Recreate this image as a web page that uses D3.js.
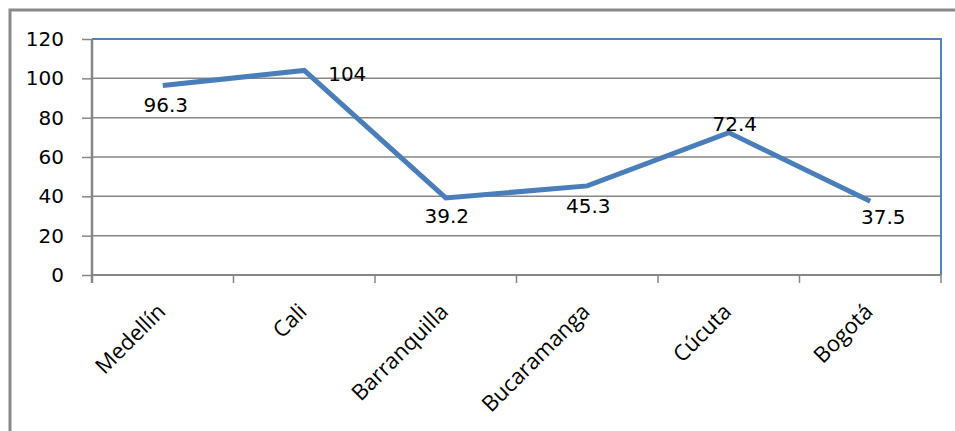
<!DOCTYPE html>
<html><head><meta charset="utf-8">
<script src="https://cdn.jsdelivr.net/npm/d3@7"></script>
<style>body{margin:0;background:#fff}svg{display:block}</style>
</head><body>
<script>
const categories = ["Medellín","Cali","Barranquilla","Bucaramanga","Cúcuta","Bogotá"];
const values = [96.3,104,39.2,45.3,72.4,37.5];
const labelText = ["96.3","104","39.2","45.3","72.4","37.5"];
const yTicks = [0,20,40,60,80,100,120];
// label placement relative to the point: dx, dy (center of text)
const labelPos = [[3,19],[43,3],[1,18],[1,20],[6,-9],[13,16]];

const W=955,H=431;
const svg=d3.select("body").append("svg").attr("width",W).attr("height",H);
svg.append("rect").attr("width",W).attr("height",H).attr("fill","#fff");
// outer chart border
svg.append("path").attr("d",`M10,${H} V10 H${W}`).attr("fill","none").attr("stroke","#8a8a8a").attr("stroke-width",3);

const L=92,R=941,T=39,B=275;
const x=d3.scaleBand().domain(categories).range([L,R]);
const y=d3.scaleLinear().domain([0,120]).range([B,T]);

// gridlines
svg.append("g").selectAll("line").data(yTicks.filter(d=>d>0 && d<120)).join("line")
 .attr("x1",L).attr("x2",R).attr("y1",d=>y(d)).attr("y2",d=>y(d))
 .attr("stroke","#868686").attr("stroke-width",1.5);
// plot area top & right border (blue)
svg.append("path").attr("d",`M${L},${y(120)} H${R} V${B}`).attr("fill","none").attr("stroke","#4f81bd").attr("stroke-width",2);

// y axis
const ya=svg.append("g").attr("transform",`translate(${L},0)`).call(d3.axisLeft(y).tickValues(yTicks).tickSize(10).tickPadding(18));
ya.select(".domain").attr("stroke","#868686").attr("stroke-width",2.5).attr("d",`M0,${T}V${B+8}`);
ya.selectAll(".tick line").attr("stroke","#868686").attr("stroke-width",1.5);
ya.selectAll(".tick text").attr("font-family","DejaVu Sans").attr("font-size",20).attr("fill","#000");

// x axis
const xa=svg.append("g").attr("transform",`translate(0,${B})`);
xa.append("line").attr("x1",L).attr("x2",R).attr("stroke","#868686").attr("stroke-width",2);
const bounds=categories.map(c=>x(c)).concat([x(categories[categories.length-1])+x.bandwidth()]);
xa.selectAll("line.t").data(bounds).join("line").attr("class","t")
 .attr("x1",d=>d).attr("x2",d=>d).attr("y1",0).attr("y2",8).attr("stroke","#868686").attr("stroke-width",1.5);
xa.selectAll("text").data(categories).join("text")
 .attr("transform",d=>`translate(${x(d)+x.bandwidth()/2+4},38) rotate(-45)`)
 .attr("text-anchor","end").attr("font-family","Open Sans").attr("font-size",22).attr("fill","#000").text(d=>d);

// line
const cx=d=>x(d)+x.bandwidth()/2;
const line=d3.line().x((d,i)=>cx(categories[i])).y(d=>y(d));
svg.append("path").datum(values).attr("d",line).attr("fill","none").attr("stroke","#4a7ebb").attr("stroke-width",5).attr("stroke-linejoin","miter");

// data labels
svg.append("g").selectAll("text").data(values).join("text")
 .attr("x",(d,i)=>cx(categories[i])+labelPos[i][0])
 .attr("y",(d,i)=>y(d)+labelPos[i][1])
 .attr("dy","0.36em").attr("text-anchor","middle")
 .attr("font-family","DejaVu Sans").attr("font-size",20).attr("fill","#000")
 .text((d,i)=>labelText[i]);
</script>
</body></html>
